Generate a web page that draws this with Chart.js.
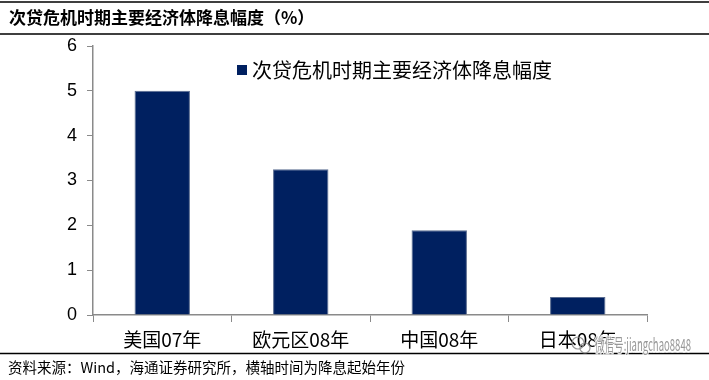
<!DOCTYPE html>
<html>
<head>
<meta charset="utf-8">
<script src="https://cdn.jsdelivr.net/npm/chart.js@4"></script>
<style>
	body { margin: 0; background: #fff; }
	#wrap { width: 709px; height: 380px; position: relative; }
</style>
</head>
<body>
<div id="wrap"><canvas id="myChart" width="709" height="380"></canvas></div>
<script>
// 데이터
const categories = ['美国07年', '欧元区08年', '中国08年', '日本08年'];
const cutValues = [5.0, 3.25, 1.89, 0.4];
const yTicks = [0, 1, 2, 3, 4, 5, 6];
const titleText = '次贷危机时期主要经济体降息幅度（%）';
const seriesName = '次贷危机时期主要经济体降息幅度';
const sourceText = '资料来源：Wind，海通证券研究所，横轴时间为降息起始年份';
const watermarkText = '微信号:jiangchao8848';

const cjk = '"Noto Sans CJK SC", sans-serif';
const latin = '"Liberation Sans", Arial, sans-serif';

// 제목, 구분선, 범례, 출처 그리기
const decorPlugin = {
	id: 'decor',
	beforeDraw: function(chart) {
		const ctx = chart.ctx;
		ctx.save();
		ctx.strokeStyle = '#000';
		ctx.lineWidth = 1.5;
		ctx.beginPath();
		ctx.moveTo(0, 2); ctx.lineTo(709, 2);
		ctx.moveTo(0, 34); ctx.lineTo(709, 34);
		ctx.moveTo(0, 353.5); ctx.lineTo(709, 353.5);
		ctx.stroke();

		ctx.fillStyle = '#000';
		ctx.textBaseline = 'middle';
		ctx.font = 'bold 17px ' + cjk;
		ctx.fillText(titleText, 9, 18);

		ctx.font = '14.5px ' + cjk;
		ctx.fillText(sourceText, 8, 367);
		ctx.restore();
	},
	afterDraw: function(chart) {
		const ctx = chart.ctx;
		const ds = chart.data.datasets[0];
		ctx.save();
		// 범례
		ctx.fillStyle = ds.backgroundColor;
		ctx.fillRect(237, 65, 10, 10);
		ctx.fillStyle = '#000';
		ctx.textBaseline = 'middle';
		ctx.font = '20px ' + cjk;
		ctx.fillText(ds.label, 252, 70);

		// 워터마크 (가로로 압축해서 96px 폭에 맞춤)
		ctx.font = '17px ' + cjk;
		const w = ctx.measureText(watermarkText).width;
		ctx.translate(595, 345);
		ctx.scale(96 / w, 1);
		ctx.lineWidth = 3;
		ctx.strokeStyle = 'rgba(255,255,255,0.85)';
		ctx.strokeText(watermarkText, 0, 0);
		ctx.fillStyle = 'rgba(140,140,140,0.9)';
		ctx.fillText(watermarkText, 0, 0);
		ctx.setTransform(1, 0, 0, 1, 0, 0);
		ctx.strokeStyle = 'rgba(140,140,140,0.9)';
		ctx.lineWidth = 1.2;
		ctx.beginPath();
		ctx.arc(578, 343, 6, 0, Math.PI * 2);
		ctx.moveTo(590, 348);
		ctx.arc(585, 348, 5, 0, Math.PI * 2);
		ctx.stroke();
		ctx.restore();
	}
};

const ctx = document.getElementById('myChart').getContext('2d');
window.myBarChart = new Chart(ctx, {
	type: 'bar',
	data: {
		labels: categories,
		datasets: [{
			label: seriesName,
			data: cutValues,
			backgroundColor: '#002060',
			borderColor: '#5a6c90',
			borderWidth: 1,
			categoryPercentage: 1.0,
			barPercentage: 0.4
		}]
	},
	options: {
		responsive: false,
		animation: false,
		layout: {
			padding: { left: 0, right: 62, top: 46, bottom: 28 }
		},
		scales: {
			x: {
				afterFit: function(scale) { scale.height = 37; },
				grid: {
					offset: true,
					drawOnChartArea: false,
					drawTicks: true,
					tickLength: 7,
					color: '#8a8a8a'
				},
				border: { display: true, color: '#8a8a8a', width: 1.5 },
				ticks: {
					color: '#000',
					padding: 6,
					font: { family: cjk, size: 19 }
				}
			},
			y: {
				min: 0,
				max: 6,
				afterFit: function(scale) { scale.width = 93; },
				afterBuildTicks: function(scale) {
					scale.ticks = yTicks.map(function(v) { return { value: v }; });
				},
				grid: {
					drawOnChartArea: false,
					drawTicks: true,
					tickLength: 6,
					color: '#8a8a8a'
				},
				border: { display: true, color: '#8a8a8a', width: 1.5 },
				ticks: {
					color: '#000',
					padding: 10,
					font: { family: latin, size: 18 }
				}
			}
		},
		plugins: {
			legend: { display: false },
			tooltip: { enabled: false }
		}
	},
	plugins: [decorPlugin]
});
</script>
</body>
</html>
